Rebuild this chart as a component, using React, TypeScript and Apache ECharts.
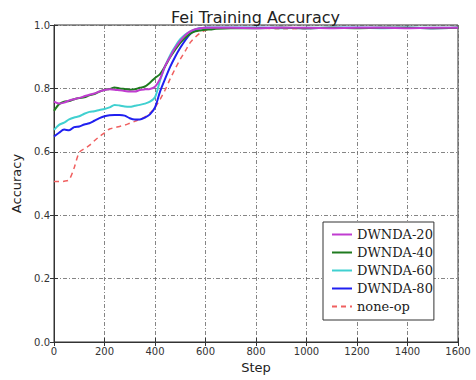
import React, { useEffect, useRef } from "react";
import * as echarts from "echarts";

const steps = [0, 20, 40, 60, 80, 100, 120, 140, 160, 180, 200, 220, 240, 260, 280, 300, 320, 340, 360, 380, 400, 420, 440, 460, 480, 500, 520, 540, 560, 580, 600, 620, 640, 700, 800, 900, 1000, 1100, 1200, 1300, 1400, 1500, 1600];

const dwnda20 = [0.758, 0.752, 0.755, 0.762, 0.766, 0.77, 0.775, 0.78, 0.784, 0.79, 0.795, 0.797, 0.796, 0.794, 0.792, 0.79, 0.79, 0.795, 0.797, 0.798, 0.805, 0.83, 0.87, 0.9, 0.928, 0.95, 0.968, 0.98, 0.987, 0.99, 0.991, 0.991, 0.991, 0.991, 0.99, 0.991, 0.991, 0.99, 0.991, 0.991, 0.99, 0.991, 0.991];
const dwnda40 = [0.729, 0.75, 0.758, 0.76, 0.766, 0.77, 0.772, 0.778, 0.782, 0.79, 0.796, 0.798, 0.803, 0.8, 0.798, 0.796, 0.797, 0.802, 0.806, 0.818, 0.833, 0.845, 0.87, 0.898, 0.922, 0.944, 0.96, 0.973, 0.98, 0.983, 0.985, 0.986, 0.988, 0.99, 0.99, 0.991, 0.99, 0.991, 0.99, 0.991, 0.991, 0.99, 0.991];
const dwnda60 = [0.669, 0.685, 0.692, 0.702, 0.708, 0.712, 0.72, 0.726, 0.728, 0.732, 0.735, 0.74, 0.748, 0.746, 0.743, 0.742, 0.745, 0.748, 0.752, 0.758, 0.772, 0.825, 0.87, 0.905, 0.932, 0.955, 0.97, 0.98, 0.987, 0.99, 0.991, 0.991, 0.991, 0.991, 0.991, 0.99, 0.991, 0.991, 0.991, 0.99, 0.991, 0.991, 0.991];
const dwnda80 = [0.648, 0.66, 0.67, 0.668, 0.678, 0.68, 0.686, 0.69, 0.698, 0.706, 0.712, 0.715, 0.716, 0.716, 0.714, 0.706, 0.702, 0.702, 0.708, 0.718, 0.74, 0.79, 0.83, 0.868, 0.9, 0.928, 0.952, 0.972, 0.985, 0.99, 0.991, 0.991, 0.991, 0.991, 0.991, 0.991, 0.99, 0.991, 0.991, 0.991, 0.991, 0.99, 0.991];
const noneOp = [0.506, 0.506, 0.507, 0.512, 0.55, 0.598, 0.61, 0.62, 0.635, 0.648, 0.66, 0.672, 0.676, 0.68, 0.684, 0.69, 0.696, 0.702, 0.71, 0.722, 0.74, 0.765, 0.795, 0.83, 0.862, 0.892, 0.918, 0.945, 0.962, 0.975, 0.983, 0.987, 0.989, 0.99, 0.99, 0.988, 0.989, 0.99, 0.99, 0.99, 0.99, 0.99, 0.99];

const seriesNames = ["DWNDA-20", "DWNDA-40", "DWNDA-60", "DWNDA-80", "none-op"];
const seriesColors = ["#c03cd0", "#1f7a1f", "#40d0d0", "#2020f0", "#f06060"];
const seriesValues = [dwnda20, dwnda40, dwnda60, dwnda80, noneOp];

export default function App() {
  const ref = useRef<HTMLDivElement>(null);
  useEffect(() => {
    document.body.style.margin = "0";
    const chart = echarts.init(ref.current!, null, { renderer: "svg" });
    const gridLine = { show: true, lineStyle: { color: "#666", width: 0.8, type: [4, 2, 1, 2] as any } };
    const tick = { show: true, inside: true, length: 4, lineStyle: { color: "#333" } };
    const label = { color: "#333", fontSize: 10, fontFamily: "DejaVu Sans" };
    chart.setOption({
      animation: false,
      backgroundColor: "#fff",
      title: {
        text: "Fei Training Accuracy",
        left: 166,
        top: 4,
        textStyle: { fontSize: 16, fontWeight: "normal", color: "#222", fontFamily: "DejaVu Sans" },
      },
      grid: { left: 54, right: 18, top: 25, bottom: 38, show: true, borderColor: "#333", borderWidth: 1 },
      legend: {
        orient: "vertical",
        left: 323,
        top: 222,
        backgroundColor: "#fff",
        borderColor: "#333",
        borderWidth: 1,
        borderRadius: 0,
        padding: [6, 1, 7, 8],
        itemGap: 5,
        itemWidth: 20,
        itemHeight: 14,
        itemStyle: { opacity: 0 },
        textStyle: { fontSize: 13, color: "#222", fontFamily: "DejaVu Serif" },
        data: seriesNames,
      },
      xAxis: [
        {
          type: "value",
          min: 0,
          max: 1600,
          interval: 200,
          name: "Step",
          nameLocation: "middle",
          nameGap: 19,
          nameTextStyle: { fontSize: 13, color: "#222", fontFamily: "DejaVu Sans" },
          axisLine: { show: true, lineStyle: { color: "#333" } },
          axisTick: tick,
          axisLabel: { ...label, margin: 4, formatter: (v: number) => String(v) },
          splitLine: gridLine,
        },
        {
          type: "value",
          position: "top",
          min: 0,
          max: 1600,
          interval: 200,
          axisLine: { show: false },
          axisTick: tick,
          axisLabel: { show: false },
          splitLine: { show: false },
        },
      ],
      yAxis: [
        {
          type: "value",
          min: 0,
          max: 1,
          interval: 0.2,
          name: "Accuracy",
          nameLocation: "middle",
          nameGap: 27,
          nameTextStyle: { fontSize: 13, color: "#222", fontFamily: "DejaVu Sans" },
          axisLine: { show: true, lineStyle: { color: "#333" } },
          axisTick: tick,
          axisLabel: { ...label, margin: 4, formatter: (v: number) => v.toFixed(1) },
          splitLine: gridLine,
        },
        {
          type: "value",
          position: "right",
          min: 0,
          max: 1,
          interval: 0.2,
          axisLine: { show: false },
          axisTick: tick,
          axisLabel: { show: false },
          splitLine: { show: false },
        },
      ],
      series: seriesNames.map((name, i) => ({
        name,
        type: "line",
        symbol: "none",
        smooth: 0.3,
        z: 10 - i,
        data: steps.map((s, j) => [s, seriesValues[i][j]]),
        itemStyle: { color: seriesColors[i] },
        lineStyle: {
          color: seriesColors[i],
          width: i === 4 ? 1.5 : 2,
          type: i === 4 ? ([5, 4] as any) : "solid",
        },
      })),
    });
    return () => chart.dispose();
  }, []);
  return <div ref={ref} style={{ width: 476, height: 380 }} />;
}
